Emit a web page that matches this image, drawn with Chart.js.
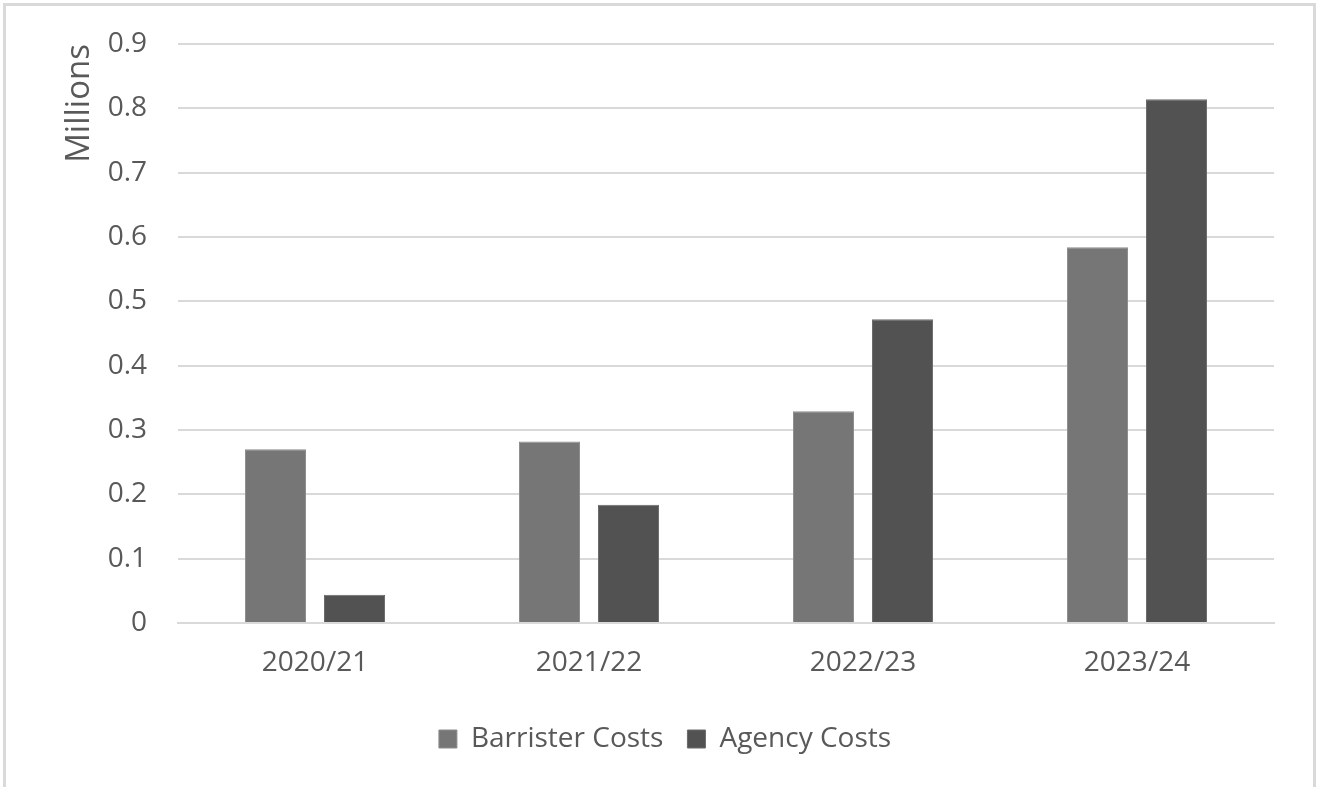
<!DOCTYPE html>
<html>
<head>
<meta charset="utf-8">
<script src="https://cdn.jsdelivr.net/npm/chart.js@4"></script>
<style>
  html, body { margin: 0; padding: 0; background: #fff; }
  #frame { position: absolute; left: 3px; top: 3px; width: 1307px; height: 800px; border: 3px solid #d9d9d9; box-sizing: content-box; }
  #wrap { position: absolute; left: 0; top: 0; width: 1321px; height: 787px; }
</style>
</head>
<body>
<div id="frame"></div>
<div id="wrap"><canvas id="c" width="1321" height="787"></canvas></div>
<script>
const categories = ["2020/21", "2021/22", "2022/23", "2023/24"];
const barristerCosts = [0.27, 0.282, 0.329, 0.584];
const agencyCosts = [0.044, 0.184, 0.472, 0.814];
const seriesNames = ["Barrister Costs", "Agency Costs"];
const tickLabels = ["0", "0.1", "0.2", "0.3", "0.4", "0.5", "0.6", "0.7", "0.8", "0.9"];
const axisTitle = "Millions";

const FONT = "'Open Sans', 'Noto Sans', sans-serif";
const TEXT = "#595959";

new Chart(document.getElementById("c"), {
  type: "bar",
  data: {
    labels: categories,
    datasets: [
      { label: seriesNames[0], data: barristerCosts, backgroundColor: "#767676", borderColor: "#8c8c8c", borderWidth: 1 },
      { label: seriesNames[1], data: agencyCosts, backgroundColor: "#525252", borderColor: "#6a6a6a", borderWidth: 1 }
    ]
  },
  options: {
    responsive: false,
    animation: false,
    devicePixelRatio: 1,
    datasets: { bar: { categoryPercentage: 0.577, barPercentage: 0.772 } },
    layout: { padding: { left: 56, right: 47, top: 44, bottom: 24 } },
    plugins: {
      tooltip: { enabled: false },
      legend: {
        position: "bottom",
        labels: {
          font: { family: FONT, size: 28 },
          color: TEXT,
          boxWidth: 18,
          boxHeight: 18,
          padding: 24
        }
      }
    },
    scales: {
      x: {
        afterFit: (s) => { s.height = 78; },
        grid: { display: false },
        border: { display: true, color: "#d9d9d9", width: 2 },
        ticks: { font: { family: FONT, size: 28 }, color: TEXT, padding: 15 }
      },
      y: {
        min: 0,
        max: 0.9,
        afterFit: (s) => { s.width = 122; s.paddingTop = 0; s.paddingBottom = 0; },
        grid: { color: "#d9d9d9", lineWidth: 2, drawTicks: false },
        border: { display: false },
        ticks: {
          stepSize: 0.1,
          font: { family: FONT, size: 28 },
          color: TEXT,
          padding: 31,
          callback: (v, i) => tickLabels[i]
        },
        title: {
          display: true,
          text: axisTitle,
          align: "end",
          font: { family: FONT, size: 33 },
          color: TEXT,
          padding: { bottom: 2 }
        }
      }
    }
  }
});
</script>
</body>
</html>
